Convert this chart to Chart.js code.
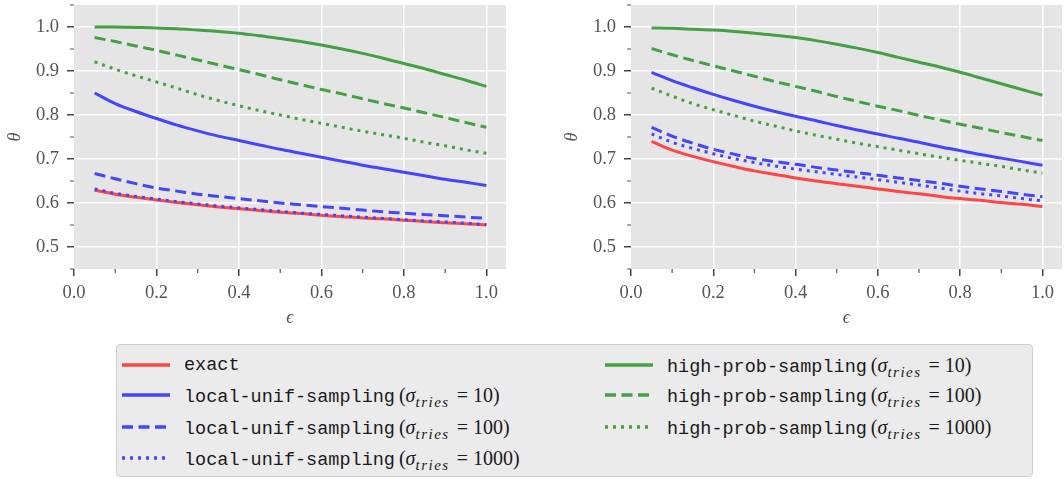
<!DOCTYPE html>
<html>
<head>
<meta charset="utf-8">
<script src="https://cdn.jsdelivr.net/npm/chart.js@4/dist/chart.umd.min.js"></script>
<style>
  html, body { margin: 0; padding: 0; background: #fff; width: 1064px; height: 479px; overflow: hidden; }
  canvas { position: absolute; top: 0; }
  #left { left: 0; }
  #right { left: 557px; }
  #legend {
    position: absolute; left: 116px; top: 344px; width: 915px; height: 131px;
    background: #ebebeb; border: 1px solid #cfcfcf; border-radius: 4px;
  }
  .item { position: absolute; height: 30px; line-height: 30px; white-space: nowrap; color: #1a1a1a; }
  .item svg { position: absolute; left: 0; top: 12px; }
  .item .lbl { position: absolute; left: 62px; top: 0; }
  .tt { font-family: "Liberation Mono", "DejaVu Sans Mono", monospace; font-size: 18.5px; }
  .mm { font-family: "Liberation Serif", serif; font-size: 20px; margin-left: 4px; }
  .mm i { font-style: italic; }
  .mm sub { font-style: italic; font-size: 15px; letter-spacing: 1.5px; vertical-align: -5px; line-height: 0; margin-right: 2px; }
</style>
</head>
<body>
<canvas id="left" width="530" height="330"></canvas>
<canvas id="right" width="530" height="330"></canvas>
<div id="legend"></div>
<script>
const eps = [0.05, 0.1, 0.15, 0.2, 0.25, 0.3, 0.35, 0.4, 0.45, 0.5,
             0.55, 0.6, 0.65, 0.7, 0.75, 0.8, 0.85, 0.9, 0.95, 1.0];
const xTicks = [0, 0.2, 0.4, 0.6, 0.8, 1.0];
const xMinor = [0.1, 0.3, 0.5, 0.7, 0.9];
const yTicks = [0.5, 0.6, 0.7, 0.8, 0.9, 1.0];
const yMinor = [0.45, 0.55, 0.65, 0.75, 0.85, 0.95, 1.05];

// left panel
const leftExact     = [0.629, 0.620, 0.613, 0.607, 0.601, 0.596, 0.591, 0.587, 0.583, 0.579, 0.576, 0.572, 0.569, 0.566, 0.564, 0.561, 0.558, 0.555, 0.553, 0.550];
const leftLocal10   = [0.850, 0.826, 0.808, 0.792, 0.777, 0.764, 0.752, 0.742, 0.732, 0.722, 0.713, 0.704, 0.695, 0.686, 0.678, 0.670, 0.662, 0.654, 0.647, 0.640];
const leftLocal100  = [0.667, 0.655, 0.644, 0.634, 0.627, 0.620, 0.615, 0.610, 0.605, 0.600, 0.596, 0.592, 0.588, 0.584, 0.580, 0.577, 0.574, 0.571, 0.568, 0.565];
const leftLocal1000 = [0.632, 0.622, 0.615, 0.609, 0.603, 0.598, 0.593, 0.589, 0.585, 0.581, 0.577, 0.574, 0.571, 0.568, 0.565, 0.562, 0.559, 0.557, 0.554, 0.551];
const leftHigh10    = [1.000, 1.000, 0.999, 0.998, 0.996, 0.993, 0.990, 0.986, 0.980, 0.974, 0.967, 0.959, 0.950, 0.940, 0.929, 0.917, 0.905, 0.892, 0.879, 0.865];
const leftHigh100   = [0.976, 0.967, 0.957, 0.947, 0.936, 0.925, 0.914, 0.903, 0.892, 0.880, 0.869, 0.858, 0.848, 0.837, 0.826, 0.816, 0.805, 0.794, 0.783, 0.772];
const leftHigh1000  = [0.921, 0.904, 0.889, 0.875, 0.861, 0.846, 0.833, 0.821, 0.810, 0.800, 0.790, 0.781, 0.772, 0.763, 0.755, 0.747, 0.738, 0.730, 0.721, 0.713];

// right panel
const rightExact     = [0.740, 0.720, 0.706, 0.694, 0.683, 0.673, 0.665, 0.657, 0.650, 0.644, 0.638, 0.632, 0.626, 0.621, 0.615, 0.610, 0.606, 0.601, 0.597, 0.592];
const rightLocal10   = [0.897, 0.878, 0.862, 0.847, 0.833, 0.820, 0.808, 0.797, 0.787, 0.776, 0.766, 0.757, 0.747, 0.738, 0.728, 0.719, 0.710, 0.702, 0.694, 0.686];
const rightLocal100  = [0.772, 0.752, 0.736, 0.722, 0.711, 0.701, 0.694, 0.688, 0.681, 0.675, 0.669, 0.663, 0.657, 0.651, 0.645, 0.638, 0.632, 0.626, 0.620, 0.614];
const rightLocal1000 = [0.757, 0.738, 0.724, 0.712, 0.701, 0.692, 0.684, 0.677, 0.671, 0.665, 0.659, 0.653, 0.647, 0.641, 0.634, 0.627, 0.621, 0.616, 0.610, 0.605];
const rightHigh10    = [0.998, 0.997, 0.995, 0.993, 0.990, 0.986, 0.981, 0.976, 0.969, 0.961, 0.952, 0.942, 0.931, 0.920, 0.909, 0.897, 0.884, 0.871, 0.858, 0.845];
const rightHigh100   = [0.951, 0.937, 0.924, 0.912, 0.900, 0.888, 0.876, 0.865, 0.854, 0.842, 0.831, 0.820, 0.810, 0.799, 0.789, 0.779, 0.770, 0.760, 0.751, 0.742];
const rightHigh1000  = [0.861, 0.843, 0.826, 0.812, 0.799, 0.786, 0.775, 0.764, 0.754, 0.745, 0.736, 0.728, 0.720, 0.712, 0.704, 0.697, 0.690, 0.683, 0.675, 0.668];

const RED = '#ff4545', BLUE = '#4545ff', GREEN = '#45a045';
const SOLID = [], DASHED = [11, 5.5], DOTTED = [3, 5];

const series = [
    {name: 'exact', tries: null, color: RED, dash: SOLID},
    {name: 'local-unif-sampling', tries: '10', color: BLUE, dash: SOLID},
    {name: 'local-unif-sampling', tries: '100', color: BLUE, dash: DASHED},
    {name: 'local-unif-sampling', tries: '1000', color: BLUE, dash: DOTTED},
    {name: 'high-prob-sampling', tries: '10', color: GREEN, dash: SOLID},
    {name: 'high-prob-sampling', tries: '100', color: GREEN, dash: DASHED},
    {name: 'high-prob-sampling', tries: '1000', color: GREEN, dash: DOTTED},
];

const tickFont = {family: '"Liberation Serif", serif', size: 18.5};
const titleFont = {family: '"Liberation Serif", serif', size: 18, style: 'italic'};
const TEXT = '#555555';

const panelBackground = {
    id: 'panelBackground',
    beforeDraw(chart) {
        const {ctx, chartArea: a} = chart;
        ctx.save();
        ctx.fillStyle = '#e5e5e5';
        ctx.fillRect(a.left, a.top, a.right - a.left, a.bottom - a.top);
        ctx.restore();
    }
};

const minorTicks = {
    id: 'minorTicks',
    afterDraw(chart) {
        const {ctx, scales: {x, y}} = chart;
        ctx.save();
        ctx.strokeStyle = '#555';
        ctx.lineWidth = 1.2;
        ctx.beginPath();
        xMinor.forEach(v => {
            const px = x.getPixelForValue(v);
            ctx.moveTo(px, y.bottom);
            ctx.lineTo(px, y.bottom + 4);
        });
        yMinor.forEach(v => {
            const py = y.getPixelForValue(v);
            ctx.moveTo(x.left - 4, py);
            ctx.lineTo(x.left, py);
        });
        ctx.stroke();
        ctx.restore();
    }
};

function buildChart(id, values, padRight) {
    const datasets = series.map((s, i) => ({
        label: s.name + (s.tries ? ' ' + s.tries : ''),
        data: eps.map((e, k) => ({x: e, y: values[i][k]})),
        borderColor: s.color,
        borderWidth: 3,
        borderDash: s.dash,
        borderCapStyle: 'butt',
        pointRadius: 0,
        cubicInterpolationMode: 'monotone',
        order: series.length - i,
    }));
    return new Chart(document.getElementById(id), {
        type: 'line',
        data: {datasets: datasets},
        plugins: [panelBackground, minorTicks],
        options: {
            responsive: false,
            animation: false,
            devicePixelRatio: 1,
            layout: {padding: {top: 5, right: padRight, left: 0, bottom: 0}},
            plugins: {legend: {display: false}, tooltip: {enabled: false}},
            scales: {
                x: {
                    type: 'linear',
                    min: 0,
                    max: 1.0475,
                    afterBuildTicks: scale => { scale.ticks = xTicks.map(v => ({value: v})); },
                    afterFit: scale => { scale.height = 61; scale.paddingLeft = 0; scale.paddingRight = 0; },
                    border: {display: false},
                    grid: {
                        color: c => (c.tick && c.tick.value === 0) ? 'rgba(0,0,0,0)' : '#ffffff',
                        lineWidth: 1.5,
                        tickColor: '#444',
                        tickWidth: 1.5,
                        tickLength: 7,
                    },
                    ticks: {
                        font: tickFont, color: TEXT, padding: 6, maxRotation: 0, autoSkip: false,
                        callback: v => v.toFixed(1),
                    },
                    title: {display: true, text: 'ϵ', font: titleFont, color: TEXT, padding: {top: 0, bottom: 1}},
                },
                y: {
                    min: 0.45,
                    max: 1.05,
                    afterBuildTicks: scale => { scale.ticks = yTicks.map(v => ({value: v})); },
                    afterFit: scale => { scale.width = 74; scale.paddingTop = 0; scale.paddingBottom = 0; },
                    border: {display: false},
                    grid: {
                        color: '#ffffff',
                        lineWidth: 1.5,
                        tickColor: '#444',
                        tickWidth: 1.5,
                        tickLength: 7,
                    },
                    ticks: {
                        font: tickFont, color: TEXT, padding: 8, autoSkip: false,
                        callback: v => v.toFixed(1),
                    },
                    title: {display: true, text: 'θ', font: titleFont, color: TEXT, padding: {top: 4, bottom: 0}},
                },
            },
        },
    });
}

buildChart('left', [leftExact, leftLocal10, leftLocal100, leftLocal1000, leftHigh10, leftHigh100, leftHigh1000], 24);
buildChart('right', [rightExact, rightLocal10, rightLocal100, rightLocal1000, rightHigh10, rightHigh100, rightHigh1000], 25);

// legend: two columns, drawn as html so the mixed fonts stay real text
const legend = document.getElementById('legend');
const colLeft = [5, 488];
const rowTop = [5, 35, 67, 98];
series.forEach((s, i) => {
    const col = i < 4 ? 0 : 1;
    const row = i < 4 ? i : i - 4;
    const item = document.createElement('div');
    item.className = 'item';
    item.style.left = colLeft[col] + 'px';
    item.style.top = rowTop[row] + 'px';
    const dash = s.dash.length ? s.dash.join(' ') : 'none';
    let html = '<svg width="48" height="6"><line x1="0" y1="3" x2="48" y2="3" stroke="' + s.color +
        '" stroke-width="3.5" stroke-dasharray="' + dash + '"/></svg>';
    html += '<span class="lbl"><span class="tt">' + s.name + '</span>';
    if (s.tries) {
        html += '<span class="mm">(<i>σ</i><sub>tries</sub> = ' + s.tries + ')</span>';
    }
    html += '</span>';
    item.innerHTML = html;
    legend.appendChild(item);
});
</script>
</body>
</html>
